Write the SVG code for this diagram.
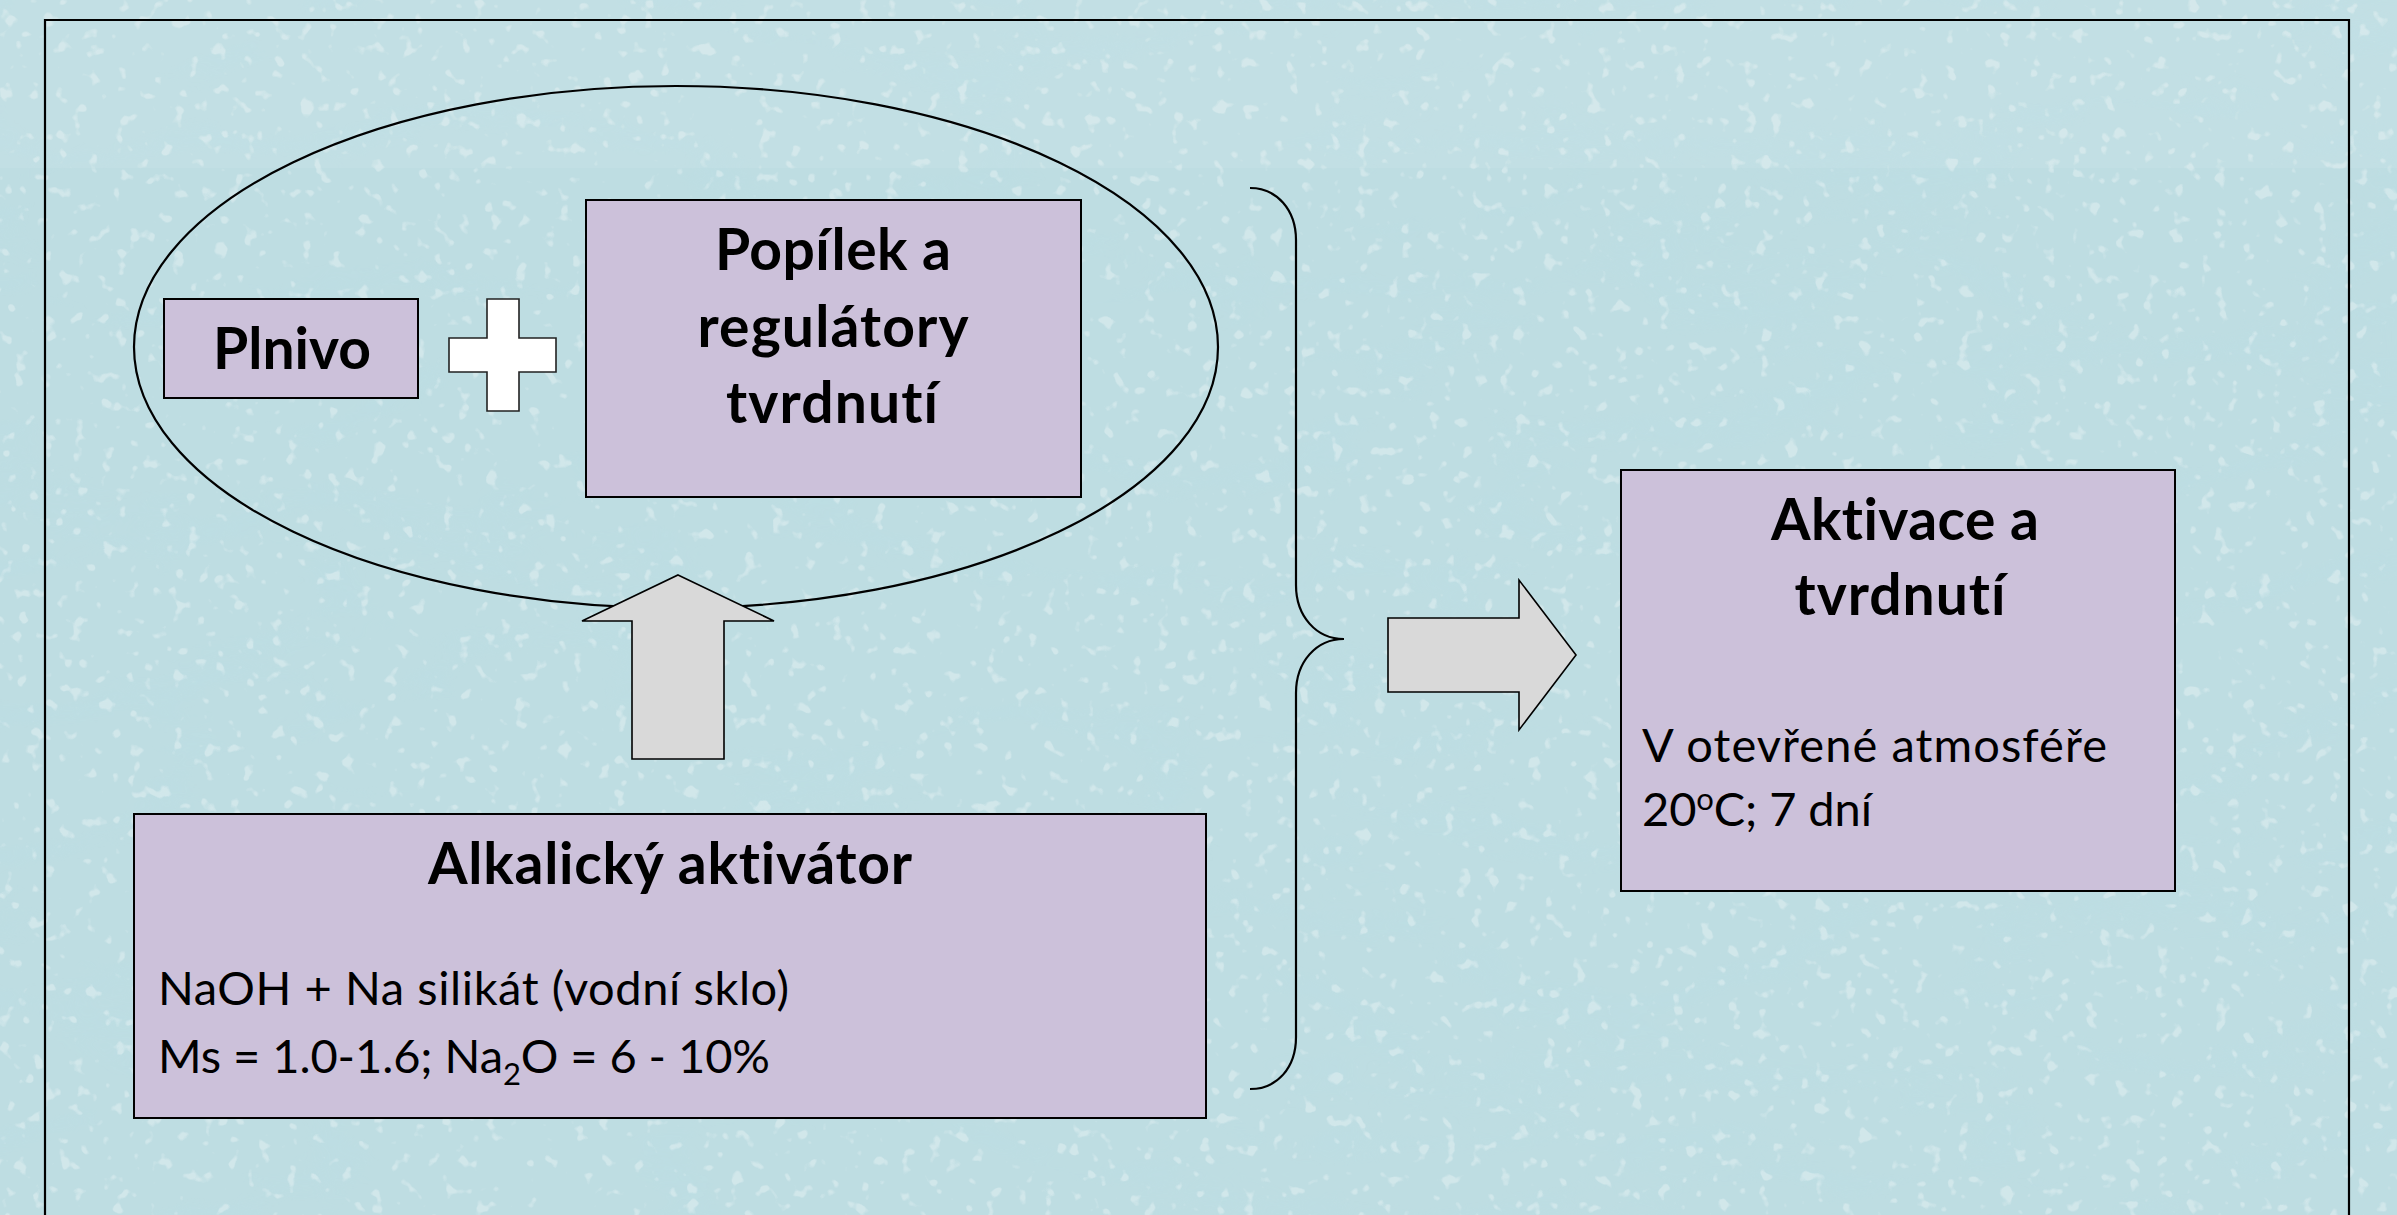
<svg xmlns="http://www.w3.org/2000/svg" width="2397" height="1215" viewBox="0 0 2397 1215">
<style>
.box{fill:#CCC1DA;stroke:#000;stroke-width:2}
.arr{fill:#D9D9D9;stroke:#000;stroke-width:1.6;stroke-linejoin:miter}
.line{fill:none;stroke:#000;stroke-width:2.2}
.t{font-family:Lato,"Open Sans","Liberation Sans",sans-serif;fill:#000;font-variant-ligatures:none;font-feature-settings:"liga" 0,"clig" 0}
.b{font-weight:bold;font-size:57px;text-anchor:middle}
.r{font-weight:normal;font-size:47px}
</style>
<defs>
<filter id="veins" x="0" y="0" width="100%" height="100%">
<feTurbulence type="turbulence" baseFrequency="0.003 0.007" numOctaves="4" seed="11"/>
<feColorMatrix type="matrix" values="0 0 0 0 0.50  0 0 0 0 0.73  0 0 0 0 0.78  -3 0 0 0 0.75"/>
</filter>
<filter id="specks" x="0" y="0" width="100%" height="100%">
<feTurbulence type="fractalNoise" baseFrequency="0.07" numOctaves="2" seed="3"/>
<feColorMatrix type="matrix" values="0 0 0 0 1  0 0 0 0 1  0 0 0 0 1  10 0 0 0 -6.4"/>
</filter>
</defs>
<g id="background">
<rect x="0" y="0" width="2397" height="1215" fill="#BEDDE2"/>
<rect x="0" y="0" width="2397" height="1215" filter="url(#veins)" opacity="0.55"/>
<rect x="0" y="0" width="2397" height="1215" filter="url(#specks)" opacity="0.3"/>
<rect x="0" y="0" width="2397" height="168" fill="#fff" opacity="0.07"/>
</g>
<g id="frame">
<path class="line" d="M45,1216 L45,20 L2349,20 L2349,1216"/>
</g>
<g id="group-ellipse">
<ellipse class="line" cx="676" cy="347" rx="542" ry="261"/>
</g>
<g id="connectors">
<polygon id="plus" points="487,299 519,299 519,338 556,338 556,372 519,372 519,411 487,411 487,372 449,372 449,338 487,338" fill="#fff" stroke="#222" stroke-width="1.6"/>
<polygon id="arrow-up" class="arr" points="678,575 774,621 724,621 724,759 632,759 632,621 582,621"/>
<path id="brace" class="line" d="M1250,188 C1277,188 1296,210 1296,240 L1296,585 C1296,616 1316,639 1344,639 C1316,639 1296,662 1296,693 L1296,1037 C1296,1068 1277,1089 1250,1089"/>
<polygon id="arrow-right" class="arr" points="1388,618 1519,618 1519,580 1576,655 1519,730 1519,692 1388,692"/>
</g>
<g id="node-plnivo">
<rect class="box" x="164" y="299" width="254" height="99"/>
<text class="t b" x="292" y="369" textLength="158">Plnivo</text>
</g>
<g id="node-popilek">
<rect class="box" x="586" y="200" width="495" height="297"/>
<text class="t b" x="833" y="270" textLength="236">Popílek a</text>
<text class="t b" x="833" y="347" textLength="271">regulátory</text>
<text class="t b" x="832" y="423" textLength="212">tvrdnutí</text>
</g>
<g id="node-aktivator">
<rect class="box" x="134" y="814" width="1072" height="304"/>
<text class="t b" x="670" y="884" textLength="484">Alkalický aktivátor</text>
<text class="t r" x="158" y="1005" textLength="631">NaOH + Na silikát (vodní sklo)</text>
<text class="t r" x="158" y="1073" textLength="612">Ms = 1.0-1.6; Na<tspan font-size="31" dy="12">2</tspan><tspan dy="-12">O = 6 - 10%</tspan></text>
</g>
<g id="node-aktivace">
<rect class="box" x="1621" y="470" width="554" height="421"/>
<text class="t b" x="1905" y="540" textLength="268">Aktivace a</text>
<text class="t b" x="1900" y="615" textLength="211">tvrdnutí</text>
<text class="t r" x="1642" y="762" textLength="465">V otevřené atmosféře</text>
<text class="t r" x="1642" y="826" textLength="230">20<tspan font-size="31" dy="-16">o</tspan><tspan dy="16">C; 7 dní</tspan></text>
</g>
</svg>
